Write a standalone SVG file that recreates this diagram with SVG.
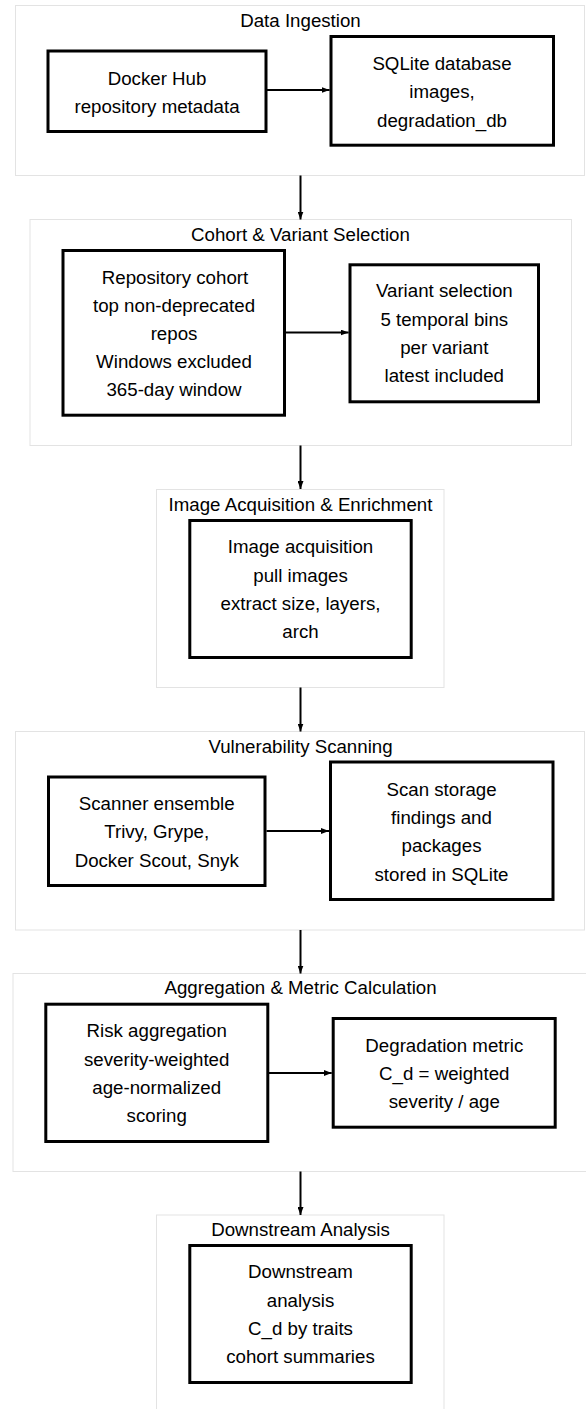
<svg xmlns="http://www.w3.org/2000/svg" width="586" height="1409" viewBox="0 0 586 1409">
<style>
.cl{fill:#ffffff;stroke:#e3e3e3;stroke-width:1}
.bx{fill:#ffffff;stroke:#000000;stroke-width:3}
.t{font-family:"Liberation Sans",Arial,sans-serif;font-size:18.7px;fill:#000000;text-anchor:middle}
.e{stroke:#000000;stroke-width:2;fill:none}
</style>
<defs>
<marker id="ah" markerUnits="userSpaceOnUse" markerWidth="8" markerHeight="6" refX="8" refY="3" orient="auto">
<path d="M0,0 L8,3 L0,6 z" fill="#000000"/>
</marker>
</defs>
<rect width="586" height="1409" fill="#ffffff"/>
<g id="cluster-ingestion">
<rect class="cl" x="15.5" y="5.5" width="569" height="170"/>
<text class="t" x="300.5" y="27">Data Ingestion</text>
</g>
<g id="cluster-cohort">
<rect class="cl" x="30" y="219.5" width="541.5" height="226"/>
<text class="t" x="300.5" y="240.5">Cohort &amp; Variant Selection</text>
</g>
<g id="cluster-acquisition">
<rect class="cl" x="156.5" y="489.5" width="287.5" height="198"/>
<text class="t" x="300.5" y="511">Image Acquisition &amp; Enrichment</text>
</g>
<g id="cluster-scanning">
<rect class="cl" x="15.5" y="731.5" width="569" height="198.5"/>
<text class="t" x="300.5" y="753">Vulnerability Scanning</text>
</g>
<g id="cluster-aggregation">
<rect class="cl" x="13" y="973.5" width="575" height="198"/>
<text class="t" x="300.5" y="994">Aggregation &amp; Metric Calculation</text>
</g>
<g id="cluster-downstream">
<rect class="cl" x="156.5" y="1215" width="287.5" height="197"/>
<text class="t" x="300.5" y="1236">Downstream Analysis</text>
</g>

<g id="node-dockerhub">
<rect class="bx" x="48" y="51" width="218" height="80.5"/>
<text class="t" x="157" y="85">Docker Hub</text>
<text class="t" x="157" y="113">repository metadata</text>
</g>
<g id="node-sqlite">
<rect class="bx" x="331" y="36.5" width="222.5" height="108.7"/>
<text class="t" x="442" y="70">SQLite database</text>
<text class="t" x="442" y="98">images,</text>
<text class="t" x="442" y="126.5">degradation_db</text>
</g>
<g id="node-cohort">
<rect class="bx" x="63" y="250.5" width="221.5" height="164.7"/>
<text class="t" x="175" y="283.5">Repository cohort</text>
<text class="t" x="174" y="311.5">top non-deprecated</text>
<text class="t" x="174" y="339.5">repos</text>
<text class="t" x="174" y="367.5">Windows excluded</text>
<text class="t" x="174" y="396">365-day window</text>
</g>
<g id="node-variant">
<rect class="bx" x="350" y="264.8" width="188.5" height="137"/>
<text class="t" x="444.3" y="297">Variant selection</text>
<text class="t" x="444.3" y="325.5">5 temporal bins</text>
<text class="t" x="444.3" y="354">per variant</text>
<text class="t" x="444.3" y="382">latest included</text>
</g>
<g id="node-acquisition">
<rect class="bx" x="189.8" y="520.5" width="221.4" height="137"/>
<text class="t" x="300.5" y="553">Image acquisition</text>
<text class="t" x="300.5" y="582">pull images</text>
<text class="t" x="300.5" y="610">extract size, layers,</text>
<text class="t" x="300.5" y="638">arch</text>
</g>
<g id="node-scanners">
<rect class="bx" x="48.5" y="777" width="216.5" height="108.5"/>
<text class="t" x="156.7" y="810">Scanner ensemble</text>
<text class="t" x="156.7" y="838">Trivy, Grype,</text>
<text class="t" x="156.7" y="866.5">Docker Scout, Snyk</text>
</g>
<g id="node-storage">
<rect class="bx" x="330.5" y="762" width="222.5" height="137.5"/>
<text class="t" x="441.5" y="795.5">Scan storage</text>
<text class="t" x="441.5" y="824">findings and</text>
<text class="t" x="441.5" y="852">packages</text>
<text class="t" x="441.5" y="880.5">stored in SQLite</text>
</g>
<g id="node-risk">
<rect class="bx" x="45.8" y="1004.2" width="222" height="137.3"/>
<text class="t" x="156.7" y="1037">Risk aggregation</text>
<text class="t" x="156.7" y="1065.5">severity-weighted</text>
<text class="t" x="156.7" y="1094">age-normalized</text>
<text class="t" x="156.7" y="1122">scoring</text>
</g>
<g id="node-metric">
<rect class="bx" x="333.2" y="1018.5" width="222" height="108.7"/>
<text class="t" x="444.3" y="1052">Degradation metric</text>
<text class="t" x="444.3" y="1080">C_d = weighted</text>
<text class="t" x="444.3" y="1108">severity / age</text>
</g>
<g id="node-downstream">
<rect class="bx" x="189.8" y="1245.5" width="221.4" height="137"/>
<text class="t" x="300.5" y="1278">Downstream</text>
<text class="t" x="300.5" y="1307">analysis</text>
<text class="t" x="300.5" y="1335">C_d by traits</text>
<text class="t" x="300.5" y="1363">cohort summaries</text>
</g>

<g id="connectors">
<line class="e" x1="266.5" y1="90" x2="329.6" y2="90" marker-end="url(#ah)"/>
<line class="e" x1="285.5" y1="332.5" x2="348.6" y2="332.5" marker-end="url(#ah)"/>
<line class="e" x1="266.5" y1="831" x2="329" y2="831" marker-end="url(#ah)"/>
<line class="e" x1="268.8" y1="1073" x2="331.7" y2="1073" marker-end="url(#ah)"/>
<line class="e" x1="300.5" y1="175.5" x2="300.5" y2="219.5" marker-end="url(#ah)"/>
<line class="e" x1="300.5" y1="445.5" x2="300.5" y2="489" marker-end="url(#ah)"/>
<line class="e" x1="300.5" y1="687.5" x2="300.5" y2="731.5" marker-end="url(#ah)"/>
<line class="e" x1="300.5" y1="930" x2="300.5" y2="973.5" marker-end="url(#ah)"/>
<line class="e" x1="300.5" y1="1171.5" x2="300.5" y2="1215" marker-end="url(#ah)"/>
</g>
</svg>
